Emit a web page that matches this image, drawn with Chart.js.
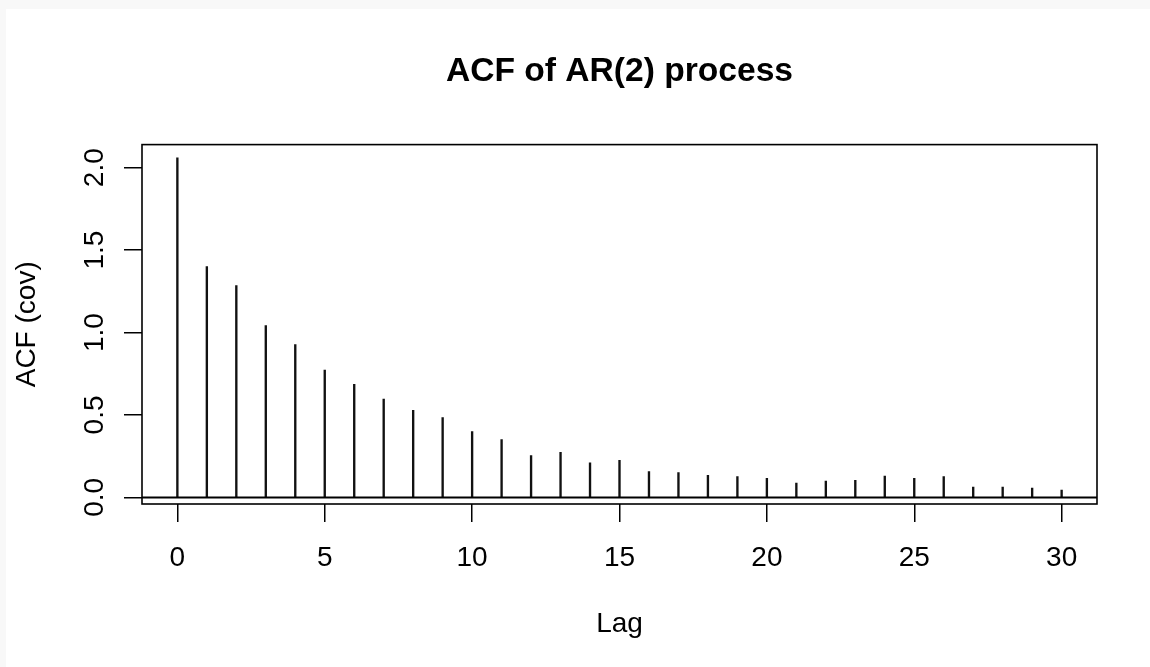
<!DOCTYPE html>
<html>
<head>
<meta charset="utf-8">
<script src="https://cdn.jsdelivr.net/npm/chart.js@4"></script>
<style>
  html, body { margin: 0; padding: 0; background: #f8f8f8; width: 1150px; height: 667px; overflow: hidden; }
  #wrap { position: absolute; left: 6px; top: 9px; width: 1144px; height: 658px; background: #ffffff; }
</style>
</head>
<body>
<div id="wrap"><canvas id="acfChart"></canvas></div>
<script>
// ACF of AR(2) process - lags and autocovariance
const lags = [0, 1, 2, 3, 4, 5, 6, 7, 8, 9, 10, 11, 12, 13, 14, 15, 16, 17, 18, 19, 20, 21, 22, 23, 24, 25, 26, 27, 28, 29, 30];
const acfValues = [2.06, 1.40, 1.285, 1.042, 0.927, 0.773, 0.686, 0.597, 0.528, 0.484, 0.399, 0.350, 0.253, 0.273, 0.210, 0.225, 0.156, 0.150, 0.134, 0.127, 0.115, 0.087, 0.099, 0.103, 0.130, 0.115, 0.126, 0.063, 0.063, 0.057, 0.045];
const xTicks = [0, 5, 10, 15, 20, 25, 30];
const yTicks = [0, 0.5, 1.0, 1.5, 2.0];
const yTickLabels = ['0.0', '0.5', '1.0', '1.5', '2.0'];

const FONT = '"Liberation Sans", Arial, Helvetica, sans-serif';

// box around plot, horizontal zero line, rotated y tick labels (R style)
const rStylePlugin = {
    id: 'rStyle',
    afterDatasetsDraw(chart) {
        const { ctx, chartArea, scales } = chart;
        const y0 = scales.y.getPixelForValue(0);
        ctx.save();
        ctx.strokeStyle = '#000';
        ctx.lineWidth = 2;
        ctx.beginPath();
        ctx.moveTo(chartArea.left, y0);
        ctx.lineTo(chartArea.right, y0);
        ctx.stroke();
        ctx.lineWidth = 1.6;
        ctx.strokeRect(chartArea.left, chartArea.top, chartArea.right - chartArea.left, chartArea.bottom - chartArea.top);

        ctx.fillStyle = '#000';
        ctx.font = '28px ' + FONT;
        ctx.textAlign = 'center';
        ctx.textBaseline = 'alphabetic';
        scales.y.ticks.forEach(t => {
            const py = scales.y.getPixelForValue(t.value);
            ctx.save();
            ctx.translate(96.5, py);
            ctx.rotate(-Math.PI / 2);
            ctx.fillText(yTickLabels[yTicks.indexOf(t.value)], 0, 0);
            ctx.restore();
        });
        ctx.restore();
    }
};

Chart.defaults.font.family = FONT;
Chart.defaults.color = '#000';

const ctx = document.getElementById('acfChart').getContext('2d');
new Chart(ctx, {
    type: 'bar',
    data: {
        datasets: [{
            label: 'ACF (cov)',
            data: lags.map((l, i) => ({ x: l, y: acfValues[i] })),
            backgroundColor: '#111',
            barThickness: 1.7
        }]
    },
    options: {
        responsive: true,
        maintainAspectRatio: false,
        animation: false,
        layout: { padding: { left: 0, right: 53, top: 0, bottom: 0 } },
        plugins: {
            legend: { display: false },
            tooltip: { enabled: false },
            title: {
                display: true,
                text: 'ACF of AR(2) process',
                fullSize: false,
                color: '#000',
                font: { size: 33.6, weight: 'bold', lineHeight: 1 },
                padding: { top: 46, bottom: 56 }
            }
        },
        scales: {
            x: {
                type: 'linear',
                min: -1.2,
                max: 31.2,
                offset: false,
                afterBuildTicks: s => { s.ticks = xTicks.map(v => ({ value: v })); },
                afterFit: s => { s.height = 163; },
                border: { display: false },
                grid: { display: true, offset: false, drawOnChartArea: false, drawTicks: true, tickLength: 18, color: '#000', lineWidth: 1.5 },
                ticks: { font: { size: 28 }, color: '#000', padding: 19, maxRotation: 0, autoSkip: false },
                title: { display: true, text: 'Lag', color: '#000', font: { size: 28 }, padding: { top: 0, bottom: 26 } }
            },
            y: {
                type: 'linear',
                min: -0.04,
                max: 2.14,
                afterBuildTicks: s => { s.ticks = yTicks.map(v => ({ value: v })); },
                afterFit: s => { s.width = 136; },
                border: { display: false },
                grid: { display: true, drawOnChartArea: false, drawTicks: true, tickLength: 18, color: '#000', lineWidth: 1.5 },
                ticks: { display: false },
                title: { display: true, text: 'ACF (cov)', color: '#000', font: { size: 28 }, padding: { top: 4, bottom: 0 } }
            }
        }
    },
    plugins: [rStylePlugin]
});
</script>
</body>
</html>
